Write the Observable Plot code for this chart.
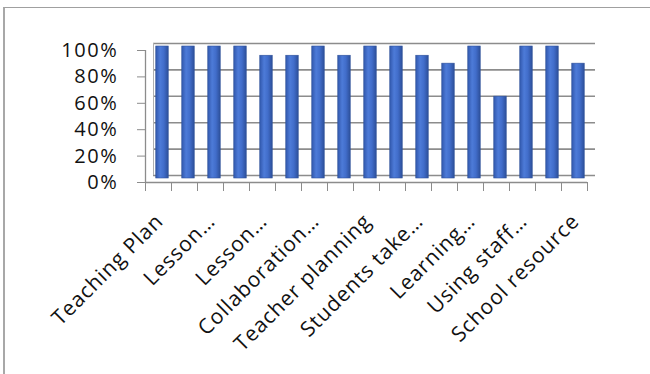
<!DOCTYPE html>
<html>
<head>
<meta charset="utf-8">
<script src="https://cdn.jsdelivr.net/npm/d3@7"></script>
<script src="https://cdn.jsdelivr.net/npm/@observablehq/plot@0.6"></script>
<style>
  html, body { margin: 0; padding: 0; background: #fff; }
  #wrap { position: relative; width: 650px; height: 374px; overflow: hidden; }
  #frame { position: absolute; left: 3px; top: 7px; width: 700px; height: 400px;
           border-left: 2px solid #a8a8a8; border-top: 1.5px solid #a0a0a0; box-sizing: border-box; }
  #chart { position: absolute; left: 0; top: 0; }
  #chart svg g[aria-label="y-axis tick label"] text { letter-spacing: 1.6px; }
  #chart svg g[aria-label="text"] text { letter-spacing: 0.9px; }
</style>
</head>
<body>
<div id="wrap"><div id="frame"></div><div id="chart"></div></div>
<script>
// 17 categories; only every other one is labelled in the original
const categories = [
  "Teaching Plan", "Category 2", "Lesson…", "Category 4", "Lesson…", "Category 6",
  "Collaboration…", "Category 8", "Teacher planning", "Category 10", "Students take…",
  "Category 12", "Learning…", "Category 14", "Using staff…", "Category 16", "School resource"
];
const tickLabels = [
  "Teaching Plan", "", "Lesson…", "", "Lesson…", "", "Collaboration…", "",
  "Teacher planning", "", "Students take…", "", "Learning…", "", "Using staff…", "", "School resource"
];
const values = [1.00, 1.00, 1.00, 1.00, 0.93, 0.93, 1.00, 0.93, 1.00, 1.00, 0.93, 0.87, 1.00, 0.62, 1.00, 1.00, 0.87];
const yTicks = [0, 0.2, 0.4, 0.6, 0.8, 1.0];

const data = categories.map((c, i) => ({i, category: c, label: tickLabels[i], value: values[i]}));
const boundaries = d3.range(categories.length + 1);

const font = "'Open Sans', 'Liberation Sans', sans-serif";

const chart = Plot.plot({
  width: 650,
  height: 374,
  marginLeft: 145,
  marginRight: 63,
  marginTop: 50,
  marginBottom: 192,
  style: {fontFamily: font, fontSize: "20px", color: "#111", background: "transparent"},
  x: {domain: [0, categories.length], axis: null},
  y: {domain: [0, 1], label: null},
  marks: [
    // back wall gridlines (3-D offset)
    Plot.ruleY(yTicks, {dx: 8, dy: -7, stroke: "#8c8c8c", strokeWidth: 1.6}),
    Plot.ruleX([0], {dx: 8, dy: -7, stroke: "#b0b0b0", strokeWidth: 1}),
    // front axes
    Plot.ruleX([0], {stroke: "#8c8c8c", strokeWidth: 1.3}),
    Plot.ruleY([0], {stroke: "#8c8c8c", strokeWidth: 1.3}),
    Plot.axisY({ticks: yTicks, tickFormat: d3.format(".0%"), tickSize: 8, tickPadding: 19,
                stroke: "#8c8c8c", fill: "#111", fontSize: 20, label: null}),
    Plot.axisX({ticks: boundaries, tickFormat: () => "", tickSize: 9, stroke: "#8c8c8c", label: null}),
    // bars
    Plot.rectY(data, {
      x1: d => d.i + 0.26, x2: d => d.i + 0.74, y: "value",
      dx: 4, dy: -4, fill: "url(#barGrad)", stroke: "#2f5299", strokeWidth: 0.6
    }),
    // category labels
    Plot.text(data.filter(d => d.label), {
      x: d => d.i + 0.5, y: 0, text: "label",
      rotate: -45, textAnchor: "end", lineAnchor: "bottom",
      dx: 6, dy: 40, fontSize: 21, fill: "#111"
    })
  ]
});

// gradient for the cylinder-like bars
const ns = "http://www.w3.org/2000/svg";
const defs = document.createElementNS(ns, "defs");
defs.innerHTML = `<linearGradient id="barGrad" x1="0" x2="1" y1="0" y2="0">
  <stop offset="0" stop-color="#3258ad"/>
  <stop offset="0.35" stop-color="#4d7bd8"/>
  <stop offset="0.65" stop-color="#416dca"/>
  <stop offset="1" stop-color="#2d4f9a"/>
</linearGradient>`;
chart.insertBefore(defs, chart.firstChild);
chart.querySelectorAll("text").forEach(t => t.setAttribute("font-family", font));

document.getElementById("chart").appendChild(chart);
</script>
</body>
</html>
